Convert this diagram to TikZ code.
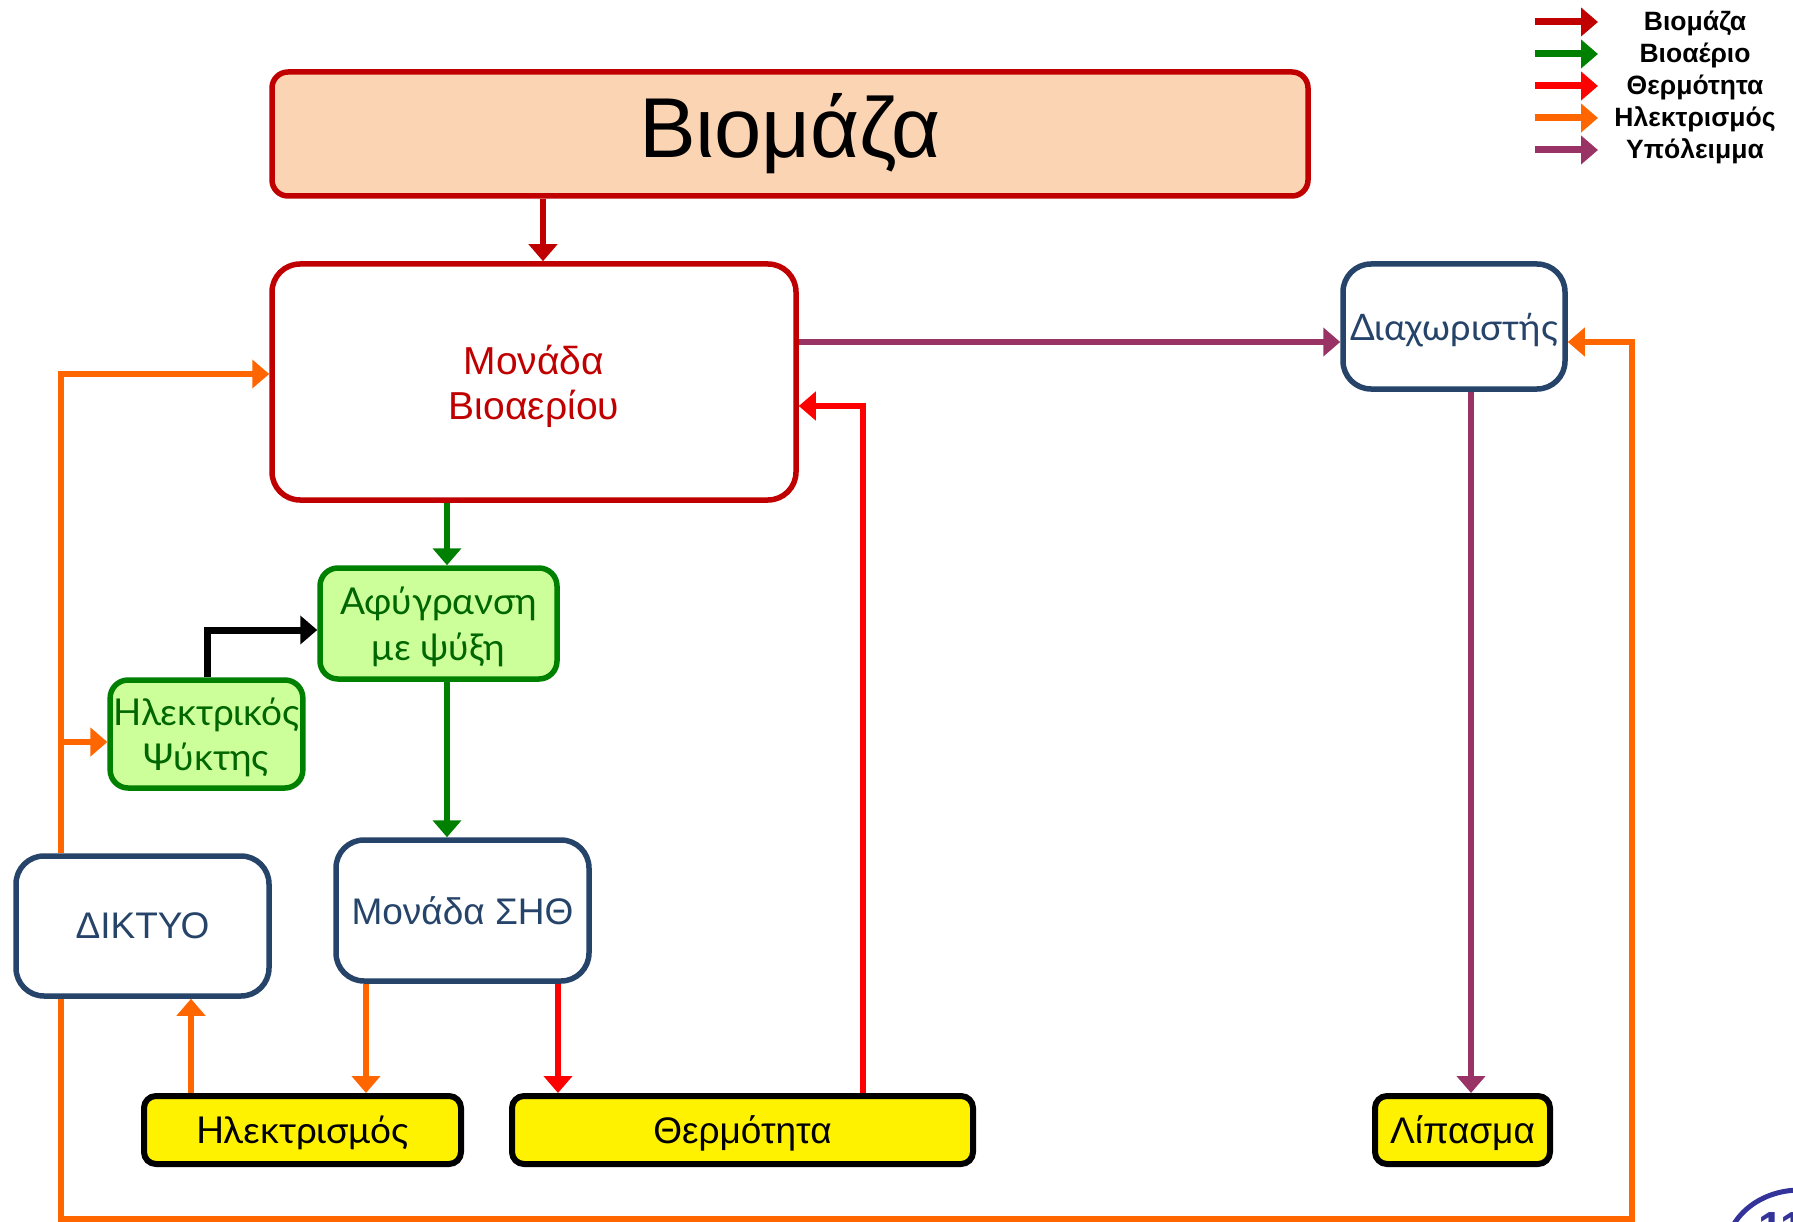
\documentclass[tikz,border=0pt]{standalone}
\usepackage{fontspec}
\setmainfont{Liberation Sans}
\newfontfamily\gillfont{Lato}
\usetikzlibrary{arrows.meta}

\definecolor{bmred}{HTML}{C00000}
\definecolor{bmpeach}{HTML}{FBD4B4}
\definecolor{gasgreen}{HTML}{008000}
\definecolor{gastext}{HTML}{006600}
\definecolor{lightgreen}{HTML}{CCFF99}
\definecolor{navy}{HTML}{264369}
\definecolor{heatred}{HTML}{FF0000}
\definecolor{elorange}{HTML}{FF6600}
\definecolor{respurple}{HTML}{993366}
\definecolor{pageblue}{HTML}{333399}

\tikzset{
  flow/.style={line width=5.5pt,-{Triangle[length=17pt,width=28pt]}},
  bioarr/.style={flow,draw=bmred},
  gasarr/.style={flow,draw=gasgreen},
  heatarr/.style={flow,draw=heatred},
  elarr/.style={flow,draw=elorange},
  resarr/.style={flow,draw=respurple},
  coolarr/.style={flow,draw=black,line width=7pt},
  biobox/.style={rectangle,rounded corners=16pt,draw=bmred,fill=bmpeach,line width=5.5pt,font=\fontsize{85}{90}\selectfont},
  plantbox/.style={rectangle,rounded corners=28pt,draw=bmred,fill=white,line width=5.5pt,text=bmred,align=center,text depth=0pt,font=\fontsize{39}{45}\selectfont},
  greenbox/.style={rectangle,rounded corners=18pt,draw=gasgreen,fill=lightgreen,line width=5.5pt,text=gastext,align=center,text depth=0pt,font=\gillfont\fontsize{37}{46}\selectfont},
  bluebox/.style={rectangle,rounded corners=28pt,draw=navy,fill=white,line width=5.5pt,text=navy,align=center,text depth=0pt,font=\fontsize{37}{40}\selectfont},
  yellowbox/.style={rectangle,rounded corners=12pt,draw=black,fill=yellow,line width=6pt,text depth=0pt,font=\fontsize{37}{40}\selectfont},
  legtext/.style={font=\bfseries\fontsize{26.5}{28}\selectfont}
}

\begin{document}
\begin{tikzpicture}[x=1pt,y=1pt,yscale=-1]
\clip (0,0) rectangle (1793,1222);

%Shape: Rectangle (top)
\node[biobox,minimum width=1036pt,minimum height=124pt] (bio) at (790,134) {Βιομάζα};
%Shape: Rectangle
\node[plantbox,minimum width=524pt,minimum height=236pt] (biogas) at (534,382) {Μονάδα\\Βιοαερίου};
%Shape: Rectangle
\node[bluebox,minimum width=222pt,minimum height=125pt,font=\gillfont\fontsize{36.5}{40}\selectfont] (sep) at (1454,326.5) {Διαχωριστής};
%Shape: Rectangle
\node[greenbox,minimum width=237pt,minimum height=111pt] (dry) at (438.5,623.5) {Αφύγρανση\\με ψύξη};
%Shape: Rectangle
\node[greenbox,minimum width=189pt,minimum height=108pt,font=\gillfont\fontsize{37}{45}\selectfont] (cool) at (206.5,734) {Ηλεκτρικός\\Ψύκτης};
%Shape: Rectangle
\node[bluebox,minimum width=253pt,minimum height=141pt] (chp) at (462.5,910.5) {Μονάδα ΣΗΘ};
%Shape: Rectangle
\node[bluebox,minimum width=253pt,minimum height=140pt] (grid) at (142.5,926) {ΔΙΚΤΥΟ};
%Shape: Rectangle (outputs)
\node[yellowbox,minimum width=317pt,minimum height=68pt,font=\gillfont\fontsize{37}{40}\selectfont] (elec) at (302.5,1130) {Ηλεκτρισμός};
\node[yellowbox,minimum width=461pt,minimum height=68pt] (heat) at (742.5,1130) {Θερμότητα};
\node[yellowbox,minimum width=175pt,minimum height=68pt] (fert) at (1462.5,1130) {Λίπασμα};

% bend points
\coordinate (bx) at (543,0);
\coordinate (gx) at (447,0);
\coordinate (pv) at (0,342);
\coordinate (hr) at (863,406);
\coordinate (ol) at (61,374);
\coordinate (ob) at (61,742);
\coordinate (bk) at (207,630);
\coordinate (ce) at (366,0);
\coordinate (ch) at (558,0);
\coordinate (eg) at (191,0);
\coordinate (sf) at (1471,0);
\coordinate (lb) at (61,1219);
\coordinate (rb) at (1632,1219);
\coordinate (rt) at (1632,342);

%Straight Lines
\draw[bioarr] (bio.south -| bx) -- (biogas.north -| bx);
\draw[resarr] (biogas.east |- pv) -- (sep.west |- pv);
\draw[heatarr] (heat.north -| hr) -- (hr) -- (biogas.east |- hr);
\draw[elarr] (grid.north -| ol) -- (ol) -- (biogas.west |- ol);
\draw[elarr] (ob) -- (cool.west |- ob);
\draw[gasarr] (biogas.south -| gx) -- (dry.north -| gx);
\draw[gasarr] (dry.south -| gx) -- (chp.north -| gx);
\draw[coolarr] (cool.north -| bk) -- (bk) -- (dry.west |- bk);
\draw[elarr] (chp.south -| ce) -- (elec.north -| ce);
\draw[heatarr] (chp.south -| ch) -- (heat.north -| ch);
\draw[elarr] (elec.north -| eg) -- (grid.south -| eg);
\draw[resarr] (sep.south -| sf) -- (fert.north -| sf);
\draw[elarr] (grid.south -| lb) -- (lb) -- (rb) -- (rt) -- (sep.east |- rt);

% Legend
\foreach \col/\txt [count=\i] in {bmred/Βιομάζα,gasgreen/Βιοαέριο,heatred/Θερμότητα,elorange/Ηλεκτρισμός,respurple/Υπόλειμμα}{
  \coordinate (legs\i) at (1535,{22+32*(\i-1)});
  \coordinate (lege\i) at (1598,{22+32*(\i-1)});
  \draw[\col,line width=7pt,-{Triangle[length=17pt,width=28pt]}] (legs\i) -- (lege\i);
  \node[legtext] (leg\i) at (1695,{23+32*(\i-1)}) {\txt};
}

% page number
\draw[pageblue,line width=5pt] (1800,1252) ellipse [x radius=74,y radius=62];
\node[text=pageblue,font=\bfseries\fontsize{45}{48}\selectfont] (pagenum) at (1782,1228) {11};

\end{tikzpicture}
\end{document}
